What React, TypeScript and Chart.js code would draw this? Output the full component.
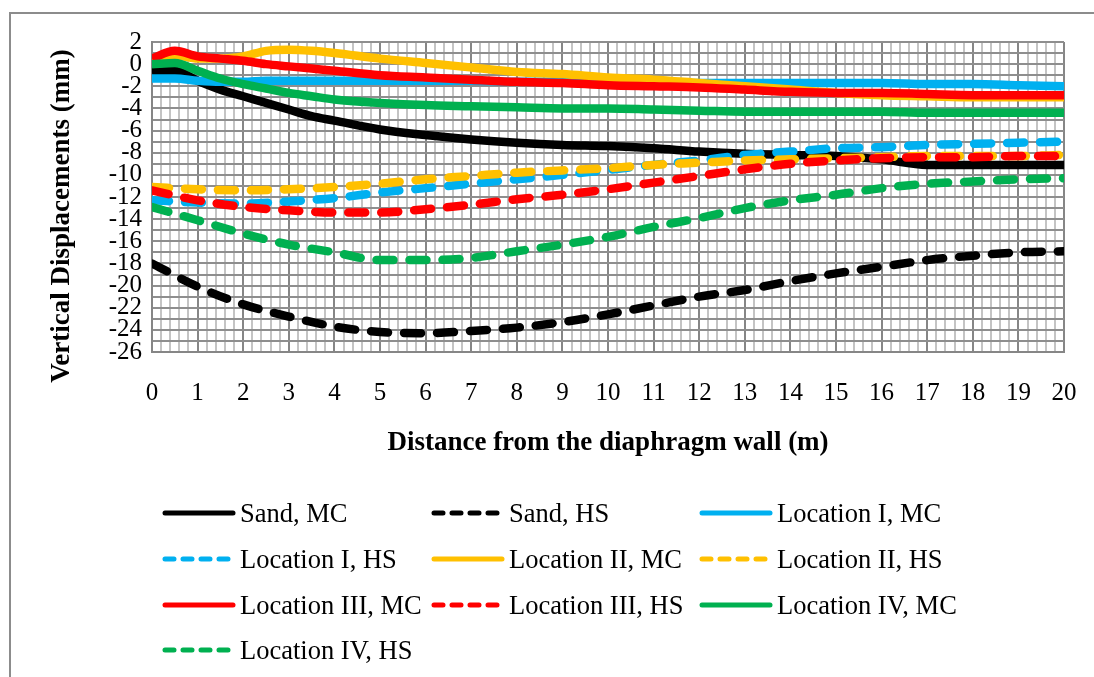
import React, { useEffect, useRef } from "react";
import { Chart, registerables } from "chart.js";

Chart.register(...registerables);

const X_MC = [0, 0.5, 1, 1.5, 2, 2.5, 3, 3.5, 4, 5, 6, 7, 8, 9, 10, 11, 12, 13, 14, 15, 16, 17, 18, 19, 20];
const X_HS = [0, 1, 2, 3, 4, 5, 6, 7, 8, 9, 10, 11, 12, 13, 14, 15, 16, 17, 18, 19, 20];

const sandMC = [-0.7, -0.6, -1.5, -2.3, -2.9, -3.5, -4.1, -4.7, -5.1, -5.9, -6.4, -6.8, -7.1, -7.3, -7.4, -7.6, -7.9, -8.1, -8.2, -8.3, -8.6, -9.1, -9.1, -9.1, -9.1];
const sandHS = [-18.0, -20.1, -21.7, -22.8, -23.7, -24.2, -24.3, -24.1, -23.8, -23.3, -22.6, -21.8, -21.0, -20.4, -19.6, -18.9, -18.3, -17.7, -17.3, -17.0, -16.9];
const locIMC = [-1.3, -1.3, -1.5, -1.6, -1.6, -1.5, -1.5, -1.5, -1.5, -1.5, -1.5, -1.5, -1.6, -1.6, -1.6, -1.6, -1.7, -1.7, -1.7, -1.7, -1.7, -1.8, -1.8, -1.9, -2.0];
const locIHS = [-12.3, -12.5, -12.6, -12.4, -12.1, -11.6, -11.2, -10.8, -10.4, -10.0, -9.55, -9.1, -8.7, -8.2, -7.9, -7.6, -7.5, -7.3, -7.2, -7.1, -7.0];
const locIIMC = [0.5, 0.8, 0.5, 0.5, 0.7, 1.2, 1.3, 1.2, 1.0, 0.5, 0.1, -0.3, -0.7, -0.9, -1.2, -1.4, -1.7, -2.0, -2.3, -2.6, -2.8, -2.9, -3.0, -3.0, -3.0];
const locIIHS = [-11.1, -11.3, -11.4, -11.3, -11.1, -10.8, -10.4, -10.1, -9.8, -9.6, -9.4, -9.1, -8.9, -8.7, -8.6, -8.5, -8.4, -8.3, -8.3, -8.3, -8.2];
const locIIIMC = [0.5, 1.2, 0.7, 0.5, 0.3, 0.0, -0.2, -0.4, -0.6, -1.0, -1.2, -1.4, -1.6, -1.7, -1.9, -2.0, -2.1, -2.3, -2.5, -2.6, -2.6, -2.7, -2.8, -2.8, -2.8];
const locIIIHS = [-11.4, -12.3, -12.9, -13.2, -13.4, -13.4, -13.1, -12.7, -12.2, -11.8, -11.3, -10.7, -10.1, -9.5, -9.0, -8.7, -8.5, -8.4, -8.4, -8.3, -8.3];
const locIVMC = [0.0, 0.1, -0.6, -1.3, -1.8, -2.2, -2.6, -2.9, -3.2, -3.5, -3.7, -3.8, -3.9, -4.0, -4.0, -4.1, -4.2, -4.3, -4.3, -4.3, -4.3, -4.4, -4.4, -4.4, -4.4];
const locIVHS = [-12.9, -14.1, -15.3, -16.3, -17.0, -17.7, -17.7, -17.5, -16.9, -16.3, -15.6, -14.7, -13.9, -13.0, -12.3, -11.8, -11.2, -10.8, -10.6, -10.4, -10.3];

const seriesNames = [
  "Sand, MC", "Sand, HS",
  "Location I, MC", "Location I, HS",
  "Location II, MC", "Location II, HS",
  "Location III, MC", "Location III, HS",
  "Location IV, MC", "Location IV, HS",
];
const seriesValues = [sandMC, sandHS, locIMC, locIHS, locIIMC, locIIHS, locIIIMC, locIIIHS, locIVMC, locIVHS];
const seriesColors = ["#000000", "#000000", "#00B0F0", "#00B0F0", "#FFC000", "#FFC000", "#FF0000", "#FF0000", "#00B050", "#00B050"];

const xTitle = "Distance from the diaphragm wall (m)";
const yTitle = "Vertical Displacements (mm)";

const FONT = "'Liberation Serif', 'Times New Roman', serif";

const isInt = (v: number) => Math.abs(v - Math.round(v)) < 1e-6;

const overlay = {
  id: "overlay",
  afterDraw(chart: any) {
    const ctx = chart.ctx as CanvasRenderingContext2D;
    ctx.save();
    ctx.strokeStyle = "#8c8c8c";
    ctx.lineWidth = 2;
    ctx.beginPath();
    ctx.moveTo(10, 700);
    ctx.lineTo(10, 13);
    ctx.lineTo(1100, 13);
    ctx.stroke();

    ctx.fillStyle = "#000";
    ctx.font = `bold 27px ${FONT}`;
    ctx.textAlign = "center";
    ctx.textBaseline = "middle";
    const area = chart.chartArea;
    ctx.fillText(xTitle, (area.left + area.right) / 2, 443);
    ctx.save();
    ctx.translate(62, 216);
    ctx.rotate(-Math.PI / 2);
    ctx.fillText(yTitle, 0, 0);
    ctx.restore();

    const colX = [163, 432, 700];
    const rowY = [513, 559, 605, 650];
    ctx.font = `26.5px ${FONT}`;
    ctx.textAlign = "left";
    ctx.textBaseline = "middle";
    seriesNames.forEach((name, i) => {
      const col = i % 3;
      const row = Math.floor(i / 3);
      const x = colX[col];
      const y = rowY[row];
      ctx.strokeStyle = seriesColors[i];
      ctx.lineWidth = 5;
      ctx.lineCap = "round";
      ctx.setLineDash(i % 2 === 1 ? [9, 9] : []);
      ctx.beginPath();
      ctx.moveTo(x + 2, y);
      ctx.lineTo(x + 70, y);
      ctx.stroke();
      ctx.setLineDash([]);
      ctx.fillStyle = "#000";
      ctx.fillText(name, x + 77, y + 2);
    });
    ctx.restore();
  },
};

export default function App() {
  const ref = useRef<HTMLCanvasElement | null>(null);
  useEffect(() => {
    if (!ref.current) return;
    const datasets = seriesValues.map((vals, i) => {
      const xs = i % 2 === 0 ? X_MC : X_HS;
      const dashed = i % 2 === 1;
      return {
        label: seriesNames[i],
        data: vals.map((v, k) => ({ x: xs[k], y: v })),
        borderColor: seriesColors[i],
        backgroundColor: seriesColors[i],
        borderWidth: 8.5,
        borderDash: dashed ? [17, 16] : [],
        borderCapStyle: dashed ? "round" : "butt",
        borderJoinStyle: "round",
        pointRadius: 0,
        cubicInterpolationMode: "monotone",
        fill: false,
        order: 9 - i,
      };
    });
    const chart = new Chart(ref.current, {
      type: "line",
      data: { datasets: datasets as any },
      options: {
        responsive: false,
        animation: false,
        layout: { padding: { left: 0, top: 42, right: 30, bottom: 245 } },
        plugins: { legend: { display: false }, tooltip: { enabled: false } },
        scales: {
          x: {
            type: "linear",
            min: 0,
            max: 20,
            afterFit: (s: any) => { s.height = 80; s.paddingLeft = 0; s.paddingRight = 0; },
            ticks: {
              stepSize: 0.2,
              autoSkip: false,
              maxRotation: 0,
              padding: 26,
              color: "#000",
              font: { family: FONT, size: 25 },
              callback: (v: any) => (isInt(Number(v)) ? String(Math.round(Number(v))) : ""),
            },
            grid: {
              drawTicks: false,
              lineWidth: 2,
              color: (c: any) => (c.tick && isInt(c.tick.value) ? "#868686" : "#c4c4c4"),
            },
            border: { color: "#868686", width: 2 },
          },
          y: {
            type: "linear",
            min: -26,
            max: 2,
            afterFit: (s: any) => { s.width = 152; s.paddingTop = 0; s.paddingBottom = 0; },
            ticks: {
              stepSize: 1,
              autoSkip: false,
              padding: 10,
              color: "#000",
              font: { family: FONT, size: 25 },
              callback: (v: any) => {
                const n = Math.round(Number(v));
                return n % 2 === 0 ? String(n) : "";
              },
            },
            grid: { drawTicks: false, lineWidth: 2, color: "#8e8e8e" },
            border: { color: "#868686", width: 2 },
          },
        },
      },
      plugins: [overlay],
    });
    return () => chart.destroy();
  }, []);
  return (
    <div style={{ position: "fixed", left: 0, top: 0, width: 1094, height: 677, background: "#fff" }}>
      <canvas ref={ref} width={1094} height={677} style={{ display: "block" }} />
    </div>
  );
}
